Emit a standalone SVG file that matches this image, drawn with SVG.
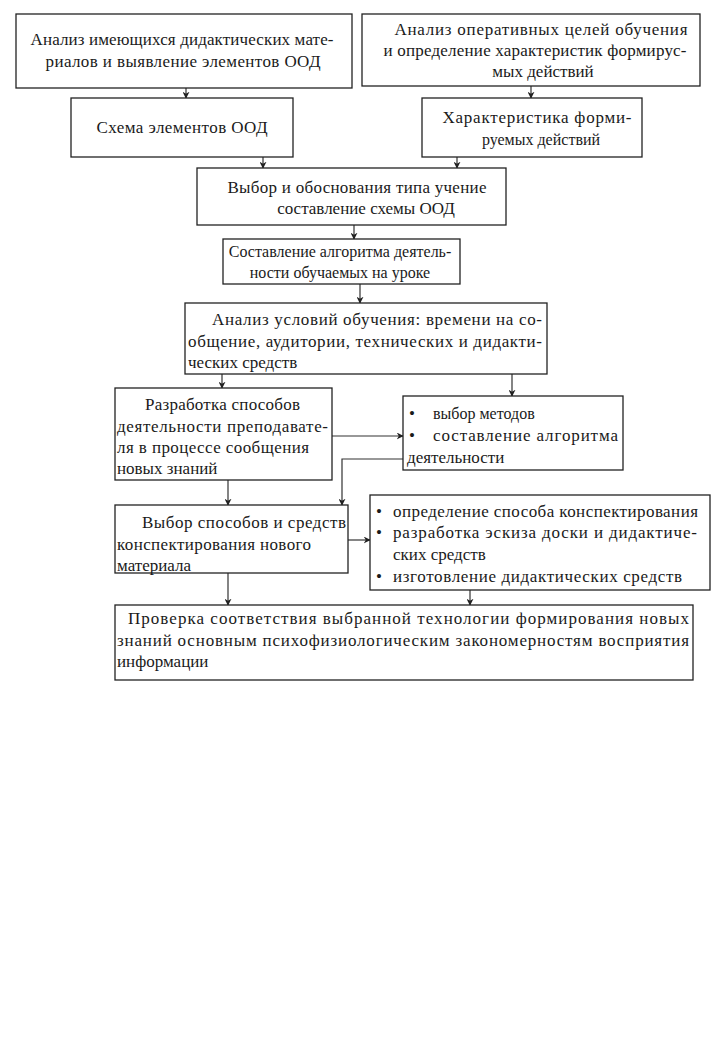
<svg xmlns="http://www.w3.org/2000/svg" width="721" height="1048" viewBox="0 0 721 1048">
<style>
.bg{fill:#fff}
.box{fill:#fff;stroke:#222;stroke-width:1.3}
.t{font-family:"Liberation Serif","Times New Roman",serif;font-size:17px;fill:#1a1a1a}
.s{font-size:16px}
.c{text-anchor:middle}
.ln{fill:none;stroke:#333;stroke-width:1.2}
</style>
<defs>
<marker id="ah" viewBox="0 0 10 10" refX="9" refY="5" markerWidth="7" markerHeight="7" orient="auto" markerUnits="userSpaceOnUse">
<path d="M0,0 L10,5 L0,10 L3,5 Z" fill="#222"/>
</marker>
</defs>
<rect class="bg" x="0" y="0" width="721" height="1048"/>
<g id="connectors">
<line class="ln" x1="186" y1="88" x2="186" y2="98" marker-end="url(#ah)"/>
<line class="ln" x1="531" y1="86" x2="531" y2="98" marker-end="url(#ah)"/>
<line class="ln" x1="263" y1="157" x2="263" y2="168" marker-end="url(#ah)"/>
<line class="ln" x1="457" y1="157" x2="457" y2="168" marker-end="url(#ah)"/>
<line class="ln" x1="354" y1="225" x2="354" y2="239" marker-end="url(#ah)"/>
<line class="ln" x1="360" y1="284" x2="360" y2="303" marker-end="url(#ah)"/>
<line class="ln" x1="222" y1="374" x2="222" y2="388" marker-end="url(#ah)"/>
<line class="ln" x1="512" y1="374" x2="512" y2="396" marker-end="url(#ah)"/>
<line class="ln" x1="332" y1="436" x2="403" y2="436" marker-end="url(#ah)"/>
<polyline class="ln" points="403,459 342,459 342,505" marker-end="url(#ah)"/>
<line class="ln" x1="228" y1="480" x2="228" y2="505" marker-end="url(#ah)"/>
<line class="ln" x1="348" y1="540" x2="370" y2="540" marker-end="url(#ah)"/>
<line class="ln" x1="228" y1="573" x2="228" y2="605" marker-end="url(#ah)"/>
<line class="ln" x1="470" y1="590" x2="470" y2="605" marker-end="url(#ah)"/>
</g>
<g id="n1">
<rect class="box" x="16" y="14" width="336" height="74"/>
<text class="t c" x="182" y="45" textLength="303" lengthAdjust="spacing">Анализ имеющихся дидактических мате-</text>
<text class="t c" x="183" y="67" textLength="275" lengthAdjust="spacing">риалов и выявление элементов ООД</text>
</g>
<g id="n2">
<rect class="box" x="362" y="14" width="338" height="72"/>
<text class="t c" x="541" y="35" textLength="293" lengthAdjust="spacing">Анализ оперативных целей обучения</text>
<text class="t c" x="535" y="56" textLength="303" lengthAdjust="spacing">и определение характеристик формирус-</text>
<text class="t c" x="543" y="77">мых действий</text>
</g>
<g id="n3">
<rect class="box" x="71" y="98" width="222" height="59"/>
<text class="t c" x="182" y="133" textLength="171" lengthAdjust="spacing">Схема элементов ООД</text>
</g>
<g id="n4">
<rect class="box" x="422" y="98" width="220" height="59"/>
<text class="t c" x="537" y="123" textLength="189" lengthAdjust="spacing">Характеристика форми-</text>
<text class="t c s" x="541" y="145">руемых действий</text>
</g>
<g id="n5">
<rect class="box" x="197" y="168" width="309" height="57"/>
<text class="t c" x="357" y="193" textLength="259" lengthAdjust="spacing">Выбор и обоснования типа учение</text>
<text class="t c" x="366" y="214">составление схемы ООД</text>
</g>
<g id="n6">
<rect class="box" x="223" y="239" width="237" height="45"/>
<text class="t c s" x="340" y="257">Составление алгоритма деятель-</text>
<text class="t c s" x="340" y="278">ности обучаемых на уроке</text>
</g>
<g id="n7">
<rect class="box" x="185" y="303" width="362" height="71"/>
<text class="t" x="212" y="325" textLength="330" lengthAdjust="spacing">Анализ условий обучения: времени на со-</text>
<text class="t" x="188" y="347" textLength="354" lengthAdjust="spacing">общение, аудитории, технических и дидакти-</text>
<text class="t" x="188" y="368">ческих средств</text>
</g>
<g id="n8">
<rect class="box" x="115" y="388" width="217" height="92"/>
<text class="t" x="145" y="410" textLength="155" lengthAdjust="spacing">Разработка способов</text>
<text class="t" x="117" y="432" textLength="211" lengthAdjust="spacing">деятельности преподавате-</text>
<text class="t" x="117" y="453" textLength="192" lengthAdjust="spacing">ля в процессе сообщения</text>
<text class="t" x="117" y="474">новых знаний</text>
</g>
<g id="n9">
<rect class="box" x="403" y="396" width="220" height="74"/>
<text class="t" x="409" y="419">•</text>
<text class="t s" x="433" y="419">выбор методов</text>
<text class="t" x="409" y="441">•</text>
<text class="t" x="433" y="441" textLength="185" lengthAdjust="spacing">составление алгоритма</text>
<text class="t" x="407" y="463">деятельности</text>
</g>
<g id="n10">
<rect class="box" x="115" y="505" width="233" height="68"/>
<text class="t" x="142" y="528" textLength="204" lengthAdjust="spacing">Выбор способов и средств</text>
<text class="t" x="117" y="550" textLength="194" lengthAdjust="spacing">конспектирования нового</text>
<text class="t" x="117" y="571">материала</text>
</g>
<g id="n11">
<rect class="box" x="370" y="495" width="340" height="95"/>
<text class="t" x="376" y="517">•</text>
<text class="t" x="393" y="517" textLength="305" lengthAdjust="spacing">определение способа конспектирования</text>
<text class="t" x="376" y="538">•</text>
<text class="t" x="393" y="538" textLength="304" lengthAdjust="spacing">разработка эскиза доски и дидактиче-</text>
<text class="t" x="393" y="560">ских средств</text>
<text class="t" x="376" y="582">•</text>
<text class="t" x="393" y="582" textLength="289" lengthAdjust="spacing">изготовление дидактических средств</text>
</g>
<g id="n12">
<rect class="box" x="115" y="605" width="578" height="75"/>
<text class="t" x="128" y="624" textLength="561" lengthAdjust="spacing">Проверка соответствия выбранной технологии формирования новых</text>
<text class="t" x="117" y="646" textLength="572" lengthAdjust="spacing">знаний основным психофизиологическим закономерностям восприятия</text>
<text class="t" x="117" y="667">информации</text>
</g>
</svg>
